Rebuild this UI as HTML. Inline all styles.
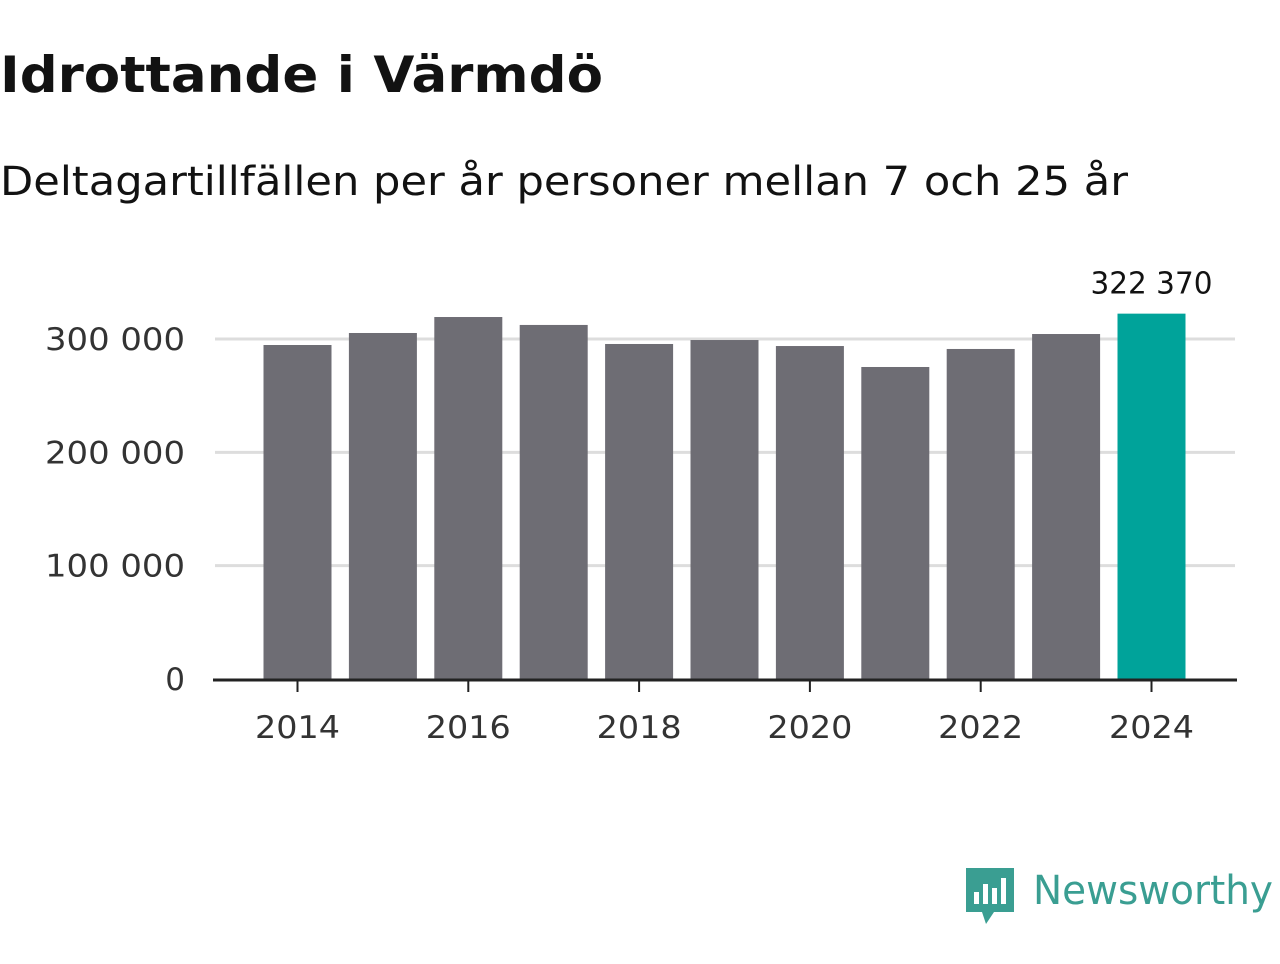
<!DOCTYPE html>
<html><head><meta charset="utf-8"><style>
body{margin:0;width:1280px;height:960px;background:#fff;font-family:"DejaVu Sans","Liberation Sans",sans-serif;overflow:hidden}
</style></head><body>
<svg width="1280" height="960">
<text x="0" y="92" font-size="50" font-weight="bold" fill="#121212" textLength="603" lengthAdjust="spacingAndGlyphs">Idrottande i Värmdö</text>
<text x="0" y="195" font-size="40" fill="#121212" textLength="1128" lengthAdjust="spacingAndGlyphs">Deltagartillfällen per år personer mellan 7 och 25 år</text>
<g id="grid"></g><g id="bars"></g><g id="xax"></g>
<g>
<path d="M966 868 h48 v44 h-20 l-8 12 l-4 -12 h-16 z" fill="#3a9e92"/>
<rect x="974" y="892" width="5" height="12" fill="#fff"/><rect x="983" y="884" width="5" height="20" fill="#fff"/><rect x="992" y="888" width="5" height="16" fill="#fff"/><rect x="1001" y="878" width="5" height="26" fill="#fff"/>
<text x="1033" y="904" font-size="40" fill="#3a9e92" textLength="240" lengthAdjust="spacingAndGlyphs">Newsworthy</text>
</g>
</svg>
<script>
const years=[2014,2015,2016,2017,2018,2019,2020,2021,2022,2023,2024];
const values=[294700,305300,319400,312400,295600,299100,293800,275300,291200,304400,322370];
const yTicks=[0,100000,200000,300000];
const yTickLabels=["0","100 000","200 000","300 000"];
const xTicks=[2014,2016,2018,2020,2022,2024];
const NS="http://www.w3.org/2000/svg";
const y=v=>679-v*(340/300000);
const x=yr=>297.5+(yr-2014)*85.4;
function mk(t,a,p){const e=document.createElementNS(NS,t);for(const k in a)e.setAttribute(k,a[k]);p.appendChild(e);return e;}
const g=document.getElementById('grid'),b=document.getElementById('bars'),xa=document.getElementById('xax');
yTicks.forEach((v,i)=>{
 if(v>0){const l=mk('line',{x1:215,x2:1235,y1:y(v),y2:y(v),stroke:'#ddd','stroke-width':3},g);
 
 }
 const a={x:185,y:y(v)+11,'font-size':31,fill:'#333','text-anchor':'end'};
 if(v>0){a.textLength=140;a.lengthAdjust='spacingAndGlyphs';}
 const t=mk('text',a,g);t.textContent=yTickLabels[i];
 
 
});
years.forEach((yr,i)=>{
 const r=mk('rect',{x:x(yr)-34,y:y(values[i]),width:68,height:679-y(values[i]),fill:yr===2024?'#00a39a':'#6e6d74'},b);
 
 
});
const last=values.length-1;
const lab=mk('text',{x:x(years[last]),y:y(values[last])-20,'font-size':30,fill:'#121212','text-anchor':'middle',textLength:122,lengthAdjust:'spacingAndGlyphs'},b);
lab.textContent=values[last].toLocaleString('sv-SE').replace(/\s/g,' ');


const ax=mk('line',{x1:213,x2:1237,y1:680,y2:680,stroke:'#222','stroke-width':3},xa);


xTicks.forEach(yr=>{
 mk('line',{x1:x(yr),x2:x(yr),y1:680,y2:692,stroke:'#222','stroke-width':2},xa);
 const t=mk('text',{x:x(yr),y:738,'font-size':31,fill:'#333','text-anchor':'middle',textLength:85,lengthAdjust:'spacingAndGlyphs'},xa);t.textContent=yr;
 
 
});
</script>
</body></html>
